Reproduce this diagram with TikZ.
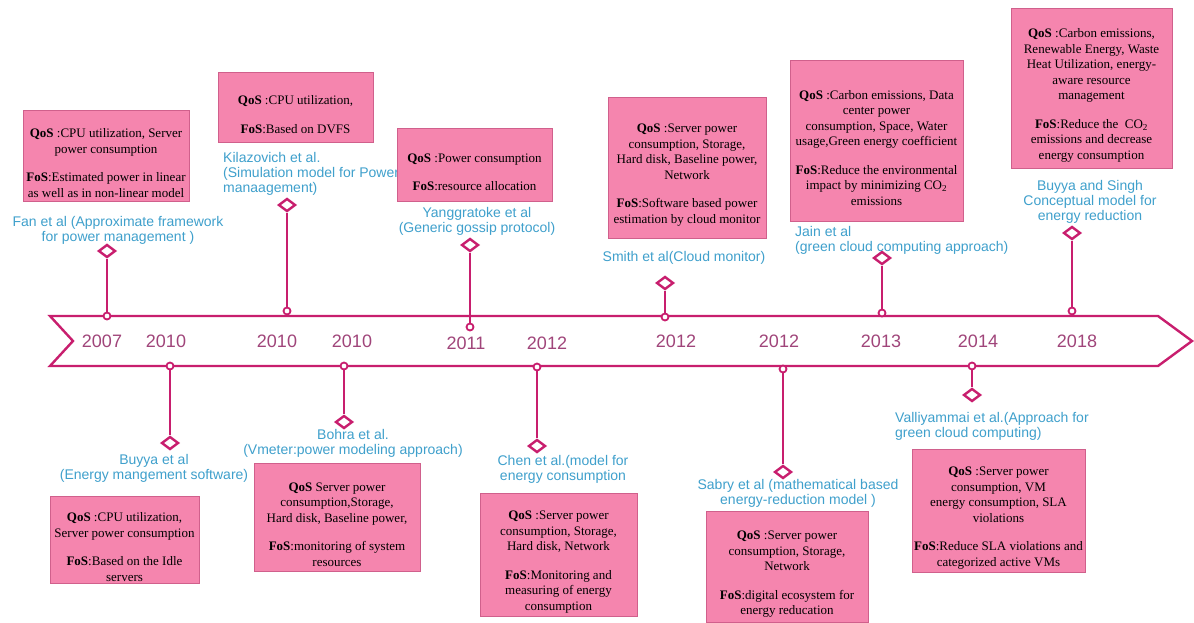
\documentclass[tikz,border=0pt]{standalone}
\usepackage{fontspec}
\setmainfont{Liberation Serif}
\newfontfamily\lblfont{Liberation Sans}
\usetikzlibrary{positioning,shapes.geometric}
\definecolor{tlmag}{HTML}{C81E6E}
\definecolor{boxpink}{HTML}{F585AE}
\definecolor{boxedge}{HTML}{D0608C}
\definecolor{lblblue}{HTML}{3FA0CC}
\definecolor{yeartxt}{HTML}{A0457A}
\newcommand{\qos}{\rule{0pt}{24pt}\textbf{QoS}}
\newcommand{\fos}{\textbf{FoS}}

\begin{document}
\begin{tikzpicture}[x=1pt,y=-1pt,
  band/.style={draw=tlmag,line width=2.4pt,line join=miter},
  stem/.style={draw=tlmag,line width=2.8pt},
  pin/.style={circle,draw=tlmag,line width=1.8pt,fill=white,minimum size=7pt,inner sep=0pt},
  tip/.style={diamond,draw=tlmag,line width=2.4pt,fill=white,minimum width=17pt,minimum height=13pt,inner sep=0pt},
  qbox/.style={rectangle,draw=boxedge,line width=0.8pt,fill=boxpink,align=center,inner xsep=2pt,inner ysep=0pt,font=\fontsize{13}{15.5}\selectfont},
  lbl/.style={font=\lblfont\fontsize{14}{15}\selectfont,text=lblblue,align=center,inner sep=0pt},
  year/.style={font=\lblfont\fontsize{18}{20}\selectfont,text=yeartxt,inner sep=0pt}
]
\path[use as bounding box,fill=white] (0,0) rectangle (1194,623);

% timeline arrow
\draw[band] (50,316) -- (1158,316) -- (1192,341) -- (1158,366) -- (50,366) -- (73,341) -- cycle;

\node[year] (y1) at (102,341) {2007};
\node[year] (y2) at (166,341) {2010};
\node[year] (y3) at (277,341) {2010};
\node[year] (y4) at (352,341) {2010};
\node[year] (y5) at (466,343) {2011};
\node[year] (y6) at (547,343) {2012};
\node[year] (y7) at (676,341) {2012};
\node[year] (y8) at (779,341) {2012};
\node[year] (y9) at (881,341) {2013};
\node[year] (y10) at (978,341) {2014};
\node[year] (y11) at (1077,341) {2018};

% stems above
\node[pin] (p1) at (107,316) {};  \node[tip] (t1) at (107,251) {};
\node[pin] (p2) at (287,311) {};  \node[tip] (t2) at (287,205) {};
\node[pin] (p3) at (470,327) {};  \node[tip] (t3) at (470,245) {};
\node[pin] (p4) at (665,317) {};  \node[tip] (t4) at (665,283) {};
\node[pin] (p5) at (882,313) {};  \node[tip] (t5) at (882,258) {};
\node[pin] (p6) at (1072,311) {}; \node[tip] (t6) at (1072,233) {};
% stems below
\node[pin] (p7) at (170,366) {};  \node[tip] (t7) at (170,443) {};
\node[pin] (p8) at (344,366) {};  \node[tip] (t8) at (344,422) {};
\node[pin] (p9) at (537,367) {};  \node[tip] (t9) at (537,446) {};
\node[pin] (p10) at (783,369) {}; \node[tip] (t10) at (783,472) {};
\node[pin] (p11) at (972,366) {}; \node[tip] (t11) at (972,395) {};

\draw[stem] (p1) -- (t1);
\draw[stem] (p2) -- (t2);
\draw[stem] (p3) -- (t3);
\draw[stem] (p4) -- (t4);
\draw[stem] (p5) -- (t5);
\draw[stem] (p6) -- (t6);
\draw[stem] (p7) -- (t7);
\draw[stem] (p8) -- (t8);
\draw[stem] (p9) -- (t9);
\draw[stem] (p10) -- (t10);
\draw[stem] (p11) -- (t11);

% authors
\node[lbl] (fan) at (118,230) {Fan et al (Approximate framework\\for power management )};
\node[lbl,align=left,anchor=west] (kil) at (223,174) {Kilazovich et al.\\(Simulation model for Power\\manaagement)};
\node[lbl] (yang) at (477,221.5) {Yanggratoke et al\\(Generic gossip protocol)};
\node[lbl] (smith) at (684,258) {Smith et al(Cloud monitor)};
\node[lbl,align=left,anchor=west] (jain) at (795,240.5) {Jain et al\\(green cloud computing approach)};
\node[lbl] (bsingh) at (1090,202) {Buyya and Singh\\Conceptual model for\\energy reduction};
\node[lbl] (buyya) at (154,468) {Buyya et al\\(Energy mangement software)};
\node[lbl] (bohra) at (353,443.5) {Bohra et al.\\(Vmeter:power modeling approach)};
\node[lbl] (chen) at (563,469) {Chen et al.(model for\\energy consumption};
\node[lbl] (sabry) at (798,493.5) {Sabry et al (mathematical based\\energy-reduction model )};
\node[lbl,align=left,anchor=west] (vall) at (895,426.5) {Valliyammai et al.(Approach for\\green cloud computing)};

% QoS / FoS boxes
\node[qbox,minimum width=166pt,minimum height=91pt] (bfan) at (106,155.5)
  {\qos{} :CPU utilization, Server\\power consumption\\[13pt]\fos:Estimated power in linear\\as well as in non-linear model};
\node[qbox,minimum width=155pt,minimum height=70pt] (bkil) at (295.5,107)
  {\qos{} :CPU utilization,\\[13pt]\fos:Based on DVFS};
\node[qbox,minimum width=155pt,minimum height=73pt] (byang) at (474.5,164.5)
  {\qos{} :Power consumption\\[13pt]\fos:resource allocation};
\node[qbox,minimum width=158pt,minimum height=141pt] (bsmith) at (687,167.5)
  {\qos{} :Server power\\consumption, Storage,\\Hard disk, Baseline power,\\Network\\[13pt]\fos:Software based power\\estimation by cloud monitor};
\node[qbox,minimum width=173pt,minimum height=161pt] (bjain) at (876.5,140.5)
  {\qos{} :Carbon emissions, Data\\center power\\consumption, Space, Water\\usage,Green energy coefficient\\[13pt]\fos:Reduce the environmental\\impact by minimizing CO\textsubscript{2}\\emissions};
\node[qbox,minimum width=161pt,minimum height=160pt] (bbsingh) at (1091.5,88)
  {\qos{} :Carbon emissions,\\Renewable Energy, Waste\\Heat Utilization, energy-\\aware resource\\management\\[13pt]\fos:Reduce the~ CO\textsubscript{2}\\emissions and decrease\\energy consumption};
\node[qbox,minimum width=149pt,minimum height=87pt] (bbuyya) at (124.5,539.5)
  {\qos{} :CPU utilization,\\Server power consumption\\[13pt]\fos:Based on the Idle\\servers};
\node[qbox,minimum width=166pt,minimum height=108pt] (bbohra) at (337,517)
  {\qos{} Server power\\consumption,Storage,\\Hard disk, Baseline power,\\[13pt]\fos:monitoring of system\\resources};
\node[qbox,minimum width=157pt,minimum height=123pt] (bchen) at (558.5,554.5)
  {\qos{} :Server power\\consumption, Storage,\\Hard disk, Network\\[13pt]\fos:Monitoring and\\measuring of energy\\consumption};
\node[qbox,minimum width=162pt,minimum height=111pt] (bsabry) at (787,566.5)
  {\qos{} :Server power\\consumption, Storage,\\Network\\[13pt]\fos:digital ecosystem for\\energy reducation};
\node[qbox,minimum width=173pt,minimum height=123pt] (bvall) at (998.5,510.5)
  {\qos{} :Server power\\consumption, VM\\energy consumption, SLA\\violations\\[13pt]\fos:Reduce SLA violations and\\categorized active VMs};
\end{tikzpicture}
\end{document}
